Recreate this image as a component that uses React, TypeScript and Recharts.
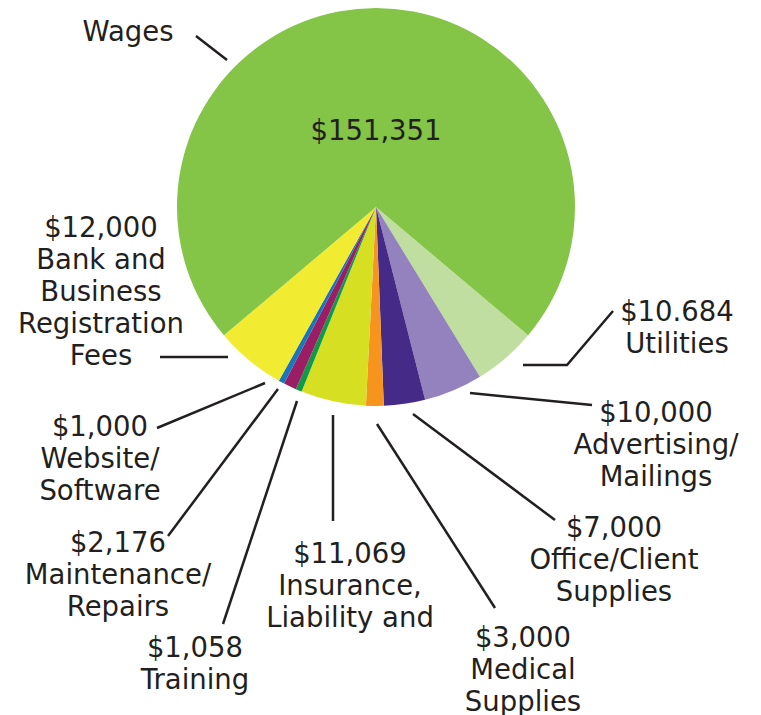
import React from "react";
import { PieChart, Pie, Cell } from "recharts";

const categories = [
  "Utilities",
  "Advertising/Mailings",
  "Office/Client Supplies",
  "Medical Supplies",
  "Insurance, Liability and",
  "Training",
  "Maintenance/Repairs",
  "Website/Software",
  "Bank and Business Registration Fees",
  "Wages",
];
const values = [10684, 10000, 7000, 3000, 11069, 1058, 2176, 1000, 12000, 151351];
const valueLabels = ["$10.684", "$10,000", "$7,000", "$3,000", "$11,069", "$1,058", "$2,176", "$1,000", "$12,000", "$151,351"];
const nameLines = [
  ["Utilities"],
  ["Advertising/", "Mailings"],
  ["Office/Client", "Supplies"],
  ["Medical", "Supplies"],
  ["Insurance,", "Liability and"],
  ["Training"],
  ["Maintenance/", "Repairs"],
  ["Website/", "Software"],
  ["Bank and", "Business", "Registration", "Fees"],
  ["Wages"],
];

const colors = ["#c0dea0", "#9382bd", "#452a88", "#f7941d", "#d7df23", "#0f9a48", "#9b1d63", "#1b75bb", "#f1eb31", "#84c446"];

const CX = 376;
const CY = 207;
const FONT = "'DejaVu Sans', sans-serif";
const FS = 27.5;
const LH = 32;
const TEXT_COLOR = "#231f20";

// label layout (absolute positions in chart pixels, converted relative to pie centre)
const labelLayout: { x: number; y: number; line: number[][] }[] = [
  { x: 677, y: 311, line: [[523, 365], [567, 365], [613, 311]] },
  { x: 656, y: 412, line: [[470, 393], [592, 405]] },
  { x: 614, y: 527, line: [[413, 414], [555, 520]] },
  { x: 523, y: 637, line: [[377, 424], [495, 608]] },
  { x: 350, y: 553, line: [[333, 415], [333, 521]] },
  { x: 195, y: 647, line: [[297, 401], [223, 624]] },
  { x: 118, y: 542, line: [[278, 389], [168, 536]] },
  { x: 100, y: 426, line: [[265, 383], [157, 428]] },
  { x: 101, y: 227, line: [[160, 357], [228, 357]] },
  { x: 128, y: 31, line: [[196, 36], [227, 60]] },
];
const wagesValuePos = { x: 376, y: 130 };

const data = categories.map((name, i) => ({ name, value: values[i] }));

const renderLabel = (props: any) => {
  const { index, cx, cy } = props;
  const L = labelLayout[index];
  const ox = cx - CX;
  const oy = cy - CY;
  const pts = L.line.map((p) => `${p[0] + ox},${p[1] + oy}`).join(" ");
  const lines = index === 9 ? nameLines[9] : [valueLabels[index], ...nameLines[index]];
  return (
    <g key={`lbl-${index}`}>
      <polyline points={pts} fill="none" stroke={TEXT_COLOR} strokeWidth={2.5} />
      {lines.map((t, j) => (
        <text
          key={j}
          x={L.x + ox}
          y={L.y + oy + j * LH + 10}
          textAnchor="middle"
          fontFamily={FONT}
          fontSize={FS}
          fill={TEXT_COLOR}
        >
          {t}
        </text>
      ))}
      {index === 9 && (
        <text
          x={wagesValuePos.x + ox}
          y={wagesValuePos.y + oy + 10}
          textAnchor="middle"
          fontFamily={FONT}
          fontSize={FS}
          fill={TEXT_COLOR}
        >
          {valueLabels[9]}
        </text>
      )}
    </g>
  );
};

export default function App() {
  return (
    <div style={{ position: "absolute", left: 0, top: 0, background: "#fff" }}>
      <PieChart width={761} height={715} margin={{ top: 0, right: 0, bottom: 0, left: 0 }}>
        <Pie
          data={data}
          dataKey="value"
          nameKey="name"
          cx={CX}
          cy={CY}
          outerRadius={199}
          startAngle={-40.14}
          endAngle={-400.14}
          stroke="none"
          label={renderLabel}
          labelLine={false}
          isAnimationActive={false}
        >
          {data.map((d, i) => (
            <Cell key={d.name} fill={colors[i]} />
          ))}
        </Pie>
      </PieChart>
    </div>
  );
}
